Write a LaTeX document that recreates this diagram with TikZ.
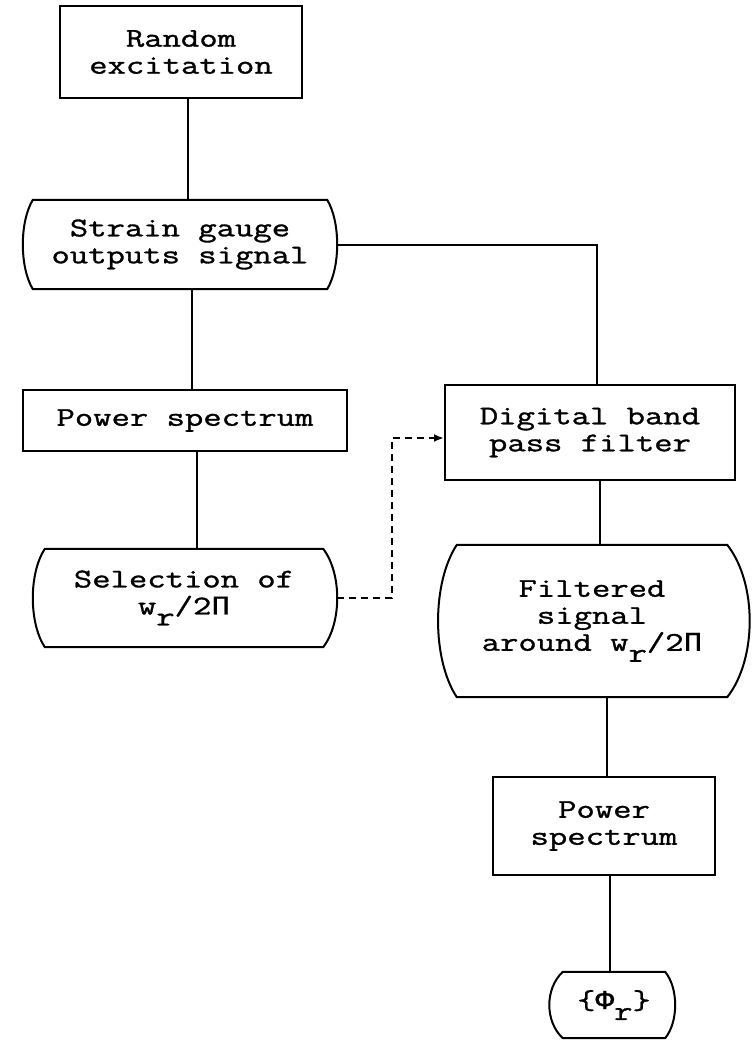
\documentclass[tikz,border=0pt]{standalone}
\usepackage{fontspec}
\newfontfamily\typefont[FakeStretch=1.32,FakeBold=1.2]{Latin Modern Mono}
\newfontfamily\greekfont[FakeStretch=1.15,FakeBold=0.8]{Liberation Mono}
\usetikzlibrary{calc,arrows.meta}
\newcommand\lowr{\raisebox{-11pt}{r}}
\newcommand\gk[1]{{\greekfont #1}}
\newcommand\drawbarrel[3]{% node, right bulge, left bulge
  \draw[outline] (#1.north west) -- (#1.north east)
    .. controls ($(#1.north east)!0.25!(#1.south east)+(#2,0)$) and ($(#1.north east)!0.75!(#1.south east)+(#2,0)$) .. (#1.south east)
    -- (#1.south west)
    .. controls ($(#1.north west)!0.75!(#1.south west)-(#3,0)$) and ($(#1.north west)!0.25!(#1.south west)-(#3,0)$) .. (#1.north west) -- cycle;}
\begin{document}
\begin{tikzpicture}[x=1pt,y=-1pt,
  every node/.style={inner sep=0pt, align=center, font=\typefont\fontsize{27}{27}\selectfont},
  boxnode/.style={draw, line width=2pt, rectangle},
  barrelnode/.style={draw=none, rectangle},
  outline/.style={line width=2pt, line join=round},
  link/.style={line width=2pt},
  dashlink/.style={line width=2pt, dash pattern=on 7pt off 5pt, -{Latex[length=10pt,width=8pt]}}]
\useasboundingbox (0,0) rectangle (753,1042);
\fill[white] (0,0) rectangle (753,1042);

\node[boxnode, minimum width=242pt, minimum height=92pt] (re) at (181,52) {Random\\excitation};
\node[barrelnode, minimum width=294pt, minimum height=89pt] (sg) at (180,244.5) {Strain gauge\\outputs signal};
\node[boxnode, minimum width=324pt, minimum height=61pt] (ps1) at (185,420.5) {Power spectrum};
\node[barrelnode, minimum width=278pt, minimum height=98pt] (sel) at (184,598) {Selection of\\w\lowr/2\gk{Π}};
\node[boxnode, minimum width=290pt, minimum height=95pt] (dbp) at (590,432.5) {Digital band\\pass filter};
\node[barrelnode, minimum width=270pt, minimum height=152pt] (filt) at (592,621) {Filtered\\signal\\around w\lowr/2\gk{Π}};
\node[boxnode, minimum width=222pt, minimum height=98pt] (ps2) at (604,826) {Power\\spectrum};
\node[barrelnode, minimum width=102pt, minimum height=66pt] (phi) at (614,1005) {\{\gk{Φ}\lowr\}};

\drawbarrel{sg}{13.3}{13.3}
\drawbarrel{sel}{18.7}{16}
\drawbarrel{filt}{30}{25}
\drawbarrel{phi}{13.3}{18}

\draw[link] ([xshift=7pt]re.south) -- ([xshift=7pt]re.south |- sg.north);
\draw[link] ([xshift=12pt]sg.south) -- ([xshift=12pt]sg.south |- ps1.north);
\draw[link] ([xshift=12pt]ps1.south) -- ([xshift=12pt]ps1.south |- sel.north);
\draw[link] ([xshift=10pt]sg.east) -| ([xshift=7pt]dbp.north);
\draw[link] ([xshift=10pt]dbp.south) -- ([xshift=10pt]dbp.south |- filt.north);
\draw[link] ([xshift=15pt]filt.south) -- ([xshift=15pt]filt.south |- ps2.north);
\draw[link] ([xshift=6pt]ps2.south) -- ([xshift=6pt]ps2.south |- phi.north);
\draw[dashlink] ([xshift=14pt]sel.east) -| ([xshift=-52pt,yshift=-5.5pt]dbp.west) -- ([yshift=-5.5pt]dbp.west);
\end{tikzpicture}
\end{document}
